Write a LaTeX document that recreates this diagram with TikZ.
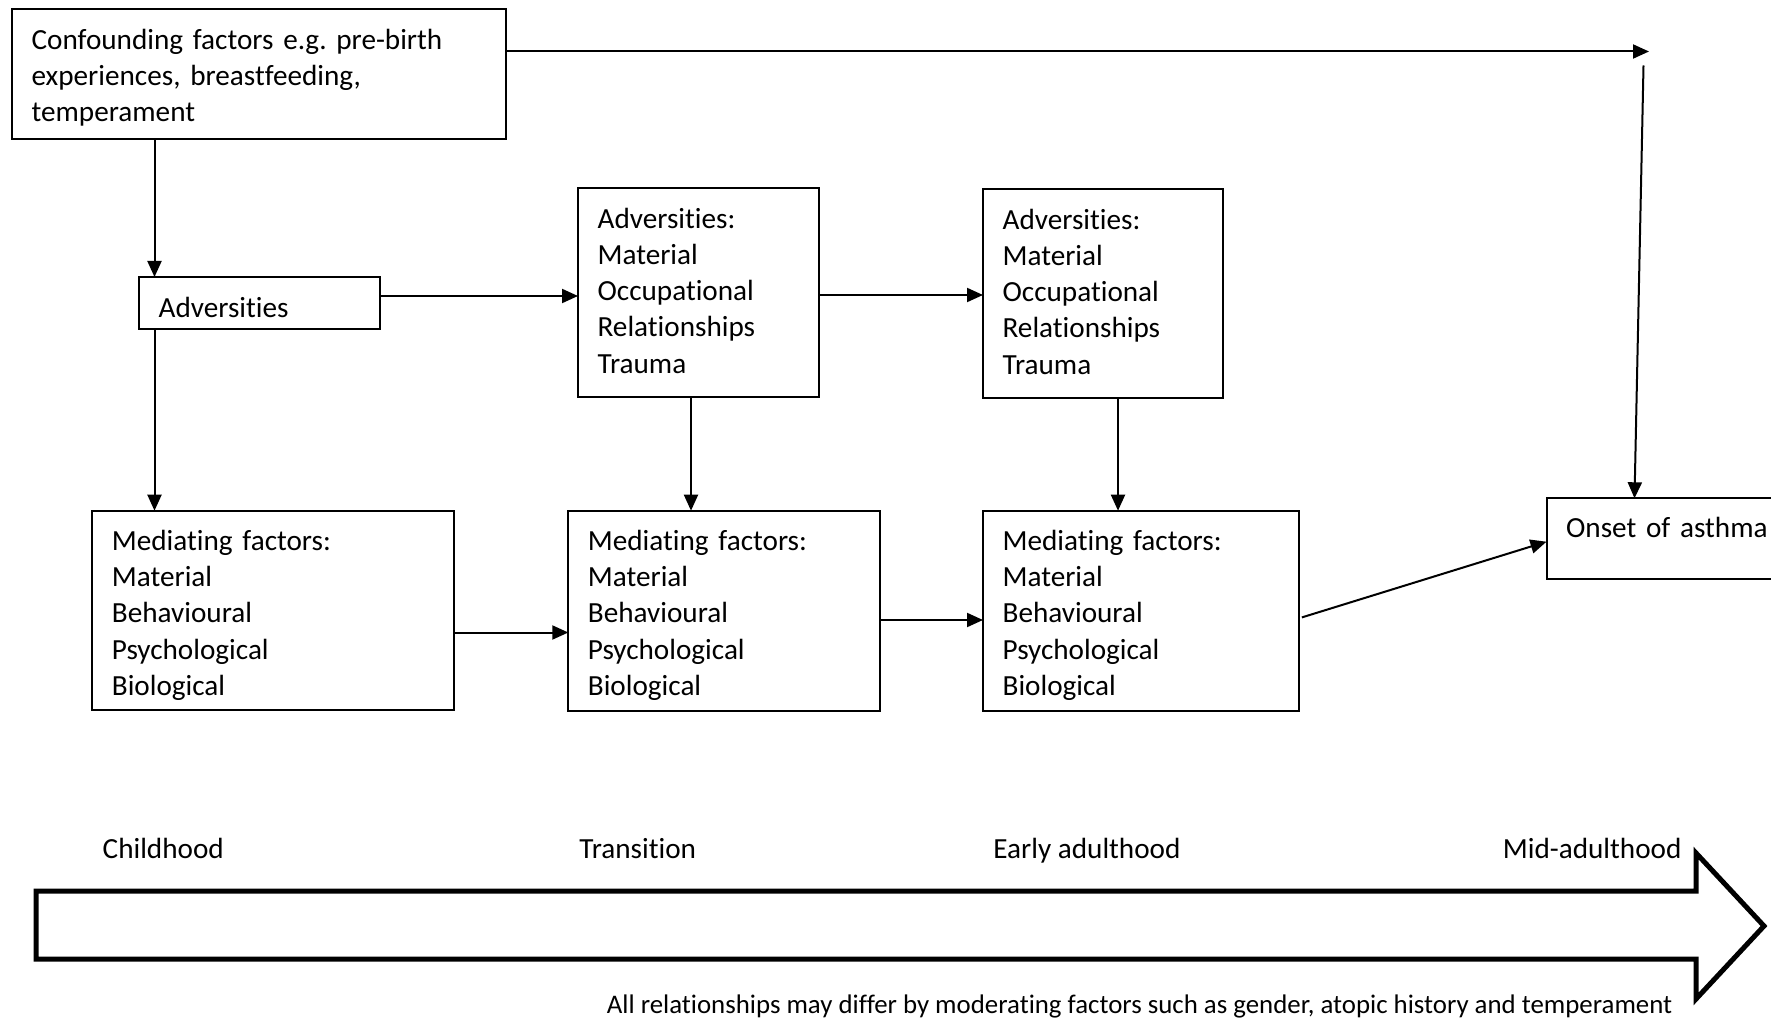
\documentclass[tikz,border=0pt]{standalone}
\usepackage{fontspec}
\setmainfont{Carlito}[Ligatures=CommonOff]
\usetikzlibrary{arrows.meta}
\frenchspacing
\newcommand\mainsize{\fontsize{14.6pt}{18.15pt}\selectfont}
\newcommand\notesize{\fontsize{13.42pt}{16pt}\selectfont}
\tikzset{
  box/.style={draw, line width=1pt, anchor=north west, inner xsep=9.8pt,
    inner ysep=0pt, outer sep=0pt, align=left, font=\mainsize},
  arr/.style={line width=1pt, -{Triangle[length=8pt,width=7pt]}},
  period/.style={anchor=base west, inner sep=0pt, font=\mainsize},
  note/.style={anchor=base west, inner sep=0pt, font=\notesize},
  lifearrow/.style={line width=2.5pt, line join=miter},
}
\begin{document}
\begin{tikzpicture}[x=0.5pt, y=-0.5pt]
\useasboundingbox (0,0) rectangle (1771,1021);

% boxes
\node[box, text width=227.4pt, text height=19.9pt, text depth=44.95pt] (conf) at (12,9.3)
  {Confounding factors e.g. pre-birth\\experiences, breastfeeding,\\temperament};
\node[box, text width=100.9pt, text height=20.1pt, text depth=5.9pt] (adv1) at (139,277)
  {Adversities};
\node[box, text width=100.9pt, text height=20.05pt, text depth=84.45pt] (adv2) at (578,188)
  {Adversities:\\Material\\Occupational\\Relationships\\Trauma};
\node[box, text width=100.4pt, text height=20.05pt, text depth=84.45pt] (adv3) at (983,189)
  {Adversities:\\Material\\Occupational\\Relationships\\Trauma};
\node[box, text width=161.25pt, text height=19.8pt, text depth=79.85pt] (med1) at (92.3,510.7)
  {Mediating factors:\\Material\\Behavioural\\Psychological\\Biological};
\node[box, text width=136.25pt, text height=19.8pt, text depth=80.2pt] (med2) at (568.3,510.7)
  {Mediating factors:\\Material\\Behavioural\\Psychological\\Biological};
\node[box, text width=138.4pt, text height=19.8pt, text depth=80.2pt] (med3) at (983,510.7)
  {Mediating factors:\\Material\\Behavioural\\Psychological\\Biological};
\node[box, text width=107.15pt, text height=19.7pt, text depth=20.65pt] (onset) at (1546.5,498.3)
  {Onset of asthma};

% guide coordinates for the connectors
\coordinate (xa) at (154.5,0);
\coordinate (xb) at (691,0);
\coordinate (xc) at (1118,0);
\coordinate (xd) at (1634.5,0);
\coordinate (ya) at (0,296);
\coordinate (yb) at (0,295);
\coordinate (yc) at (0,632.5);
\coordinate (yd) at (0,620);
\coordinate (ye) at (0,51.5);
\coordinate (yf) at (0,618.3);
\coordinate (yg) at (0,541.7);
\coordinate (topend) at (1649,51.5);
\coordinate (dropstart) at (1643.5,65.5);

% connectors
\draw[arr] (conf.south -| xa) -- (adv1.north -| xa);
\draw[arr] (adv1.south -| xa) -- (med1.north -| xa);
\draw[arr] (adv1.east |- ya) -- (adv2.west |- ya);
\draw[arr] (adv2.east |- yb) -- (adv3.west |- yb);
\draw[arr] (adv2.south -| xb) -- (med2.north -| xb);
\draw[arr] (adv3.south -| xc) -- (med3.north -| xc);
\draw[arr] (med1.east |- yc) -- (med2.west |- yc);
\draw[arr] (med2.east |- yd) -- (med3.west |- yd);
\draw[arr, shorten <=1.5pt] (med3.east |- yf) -- (onset.west |- yg);
\draw[arr] (conf.east |- ye) -- (topend);
\draw[arr] (dropstart) -- (onset.north -| xd);

% life-course arrow
\draw[lifearrow] (36,891) -- (1696,891) -- (1696,853) -- (1764,926)
  -- (1696,999) -- (1696,959) -- (36,959) -- cycle;

% life stages
\node[period] (childhood) at (102.3,858) {Childhood};
\node[period] (transition) at (579,858) {Transition};
\node[period] (early) at (993,858) {Early adulthood};
\node[period] (mid) at (1502.5,858) {Mid-adulthood};

\node[note] (moderators) at (606.5,1013.5)
  {All relationships may differ by moderating factors such as gender, atopic history and temperament};
\end{tikzpicture}
\end{document}
